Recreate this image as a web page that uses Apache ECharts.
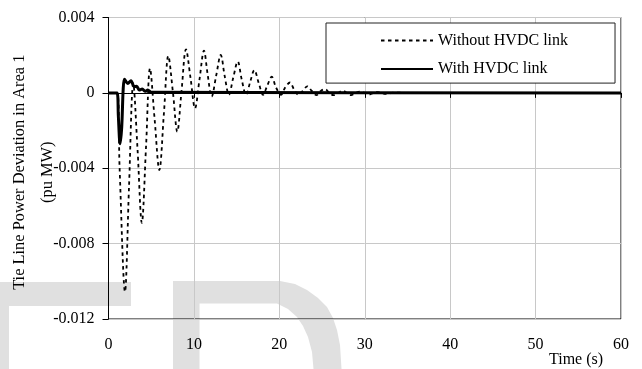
<!DOCTYPE html>
<html>
<head>
<meta charset="utf-8">
<script src="https://cdn.jsdelivr.net/npm/echarts@6/dist/echarts.min.js"></script>
<style>
html,body{margin:0;padding:0;background:#fff;}
#c{width:642px;height:369px;}
</style>
</head>
<body>
<div id="c"></div>
<script>
// ---- data ----
var seriesNames = ['Without HVDC link', 'With HVDC link'];
var xTicks = [0, 10, 20, 30, 40, 50, 60];
var yTicks = [-0.012, -0.008, -0.004, 0, 0.004];
var yTickLabels = ['-0.012', '-0.008', '-0.004', '0', '0.004'];
var xTitle = 'Time (s)';
var yTitle = 'Tie Line Power Deviation in Area 1\n(pu MW)';

// Without HVDC link: [time (s), deviation (pu MW)]
var withoutHVDC = [
  [0, 0], [1.0, 0], [1.3, -0.004], [1.93, -0.01055],
  [2.4, -0.005], [2.9, 0.0005], [3.4, -0.003], [3.9, -0.0069],
  [4.4, -0.0028], [4.86, 0.0013], [5.4, -0.0014], [5.95, -0.0041],
  [6.5, -0.001], [7.0, 0.00196], [7.55, 0.0], [8.05, -0.00206],
  [8.55, 0.0001], [9.07, 0.00231], [9.6, 0.0008], [10.13, -0.00082],
  [10.65, 0.0007], [11.18, 0.00224], [11.6, 0.001], [12.08, -0.0002],
  [12.6, 0.0009], [13.14, 0.00201], [13.6, 0.0009], [14.1, -0.0001],
  [14.6, 0.0008], [15.13, 0.00166], [15.6, 0.0007], [16.1, -0.0001],
  [16.6, 0.0006], [17.07, 0.00121], [17.6, 0.0005], [18.1, -0.0001],
  [18.6, 0.0004], [19.11, 0.00086], [19.6, 0.0003], [20.2, -0.0001],
  [20.7, 0.0003], [21.25, 0.00055], [21.7, 0.0002], [22.25, -0.0001],
  [22.75, 0.0001], [23.28, 0.00035], [23.8, 0.0001], [24.35, -0.00012],
  [24.85, 0.0001], [25.35, 0.0002], [25.85, 0.0], [26.35, -0.00012],
  [26.9, 0.0], [27.42, 0.00012], [27.9, 0.0], [28.4, -0.00012],
  [28.9, 0.0], [29.45, 0.00007], [29.95, 0.0], [30.45, -0.0001],
  [31.0, 0.0], [31.5, 0.00004], [32.5, -0.00005], [33.5, 0.00002],
  [35, 0], [60, 0]
];

// With HVDC link
var withHVDC = [
  [0, 0], [1.0, 0], [1.15, -0.0012], [1.35, -0.0027], [1.55, -0.0018],
  [1.72, 0.0002], [1.87, 0.00072], [2.25, 0.0005], [2.63, 0.00065],
  [3.0, 0.00033], [3.3, 0.00035], [3.6, 0.00015], [3.95, 0.0002],
  [4.3, 0.00008], [4.6, 0.00015], [5.0, 0.00003], [60, 0]
];

var FONT = 'Liberation Serif';
var WM = '#e0e0e0';
var chart = echarts.init(document.getElementById('c'), null, {renderer: 'canvas'});
var option = {
  animation: false,
  backgroundColor: '#fff',
  textStyle: {fontFamily: FONT, color: '#000'},
  grid: {left: 108.5, right: 21, top: 17.5, bottom: 50, show: true,
         borderColor: '#000', borderWidth: 1, containLabel: false, outerBoundsMode: 'none'},
  graphic: [
    {type: 'rect', z: -10, shape: {x: 0, y: 282, width: 131, height: 24}, style: {fill: WM}},
    {type: 'rect', z: -10, shape: {x: 0, y: 306, width: 9, height: 63}, style: {fill: WM}},
    {type: 'rect', z: -10, shape: {x: 173, y: 281, width: 26.5, height: 88}, style: {fill: WM}},
    {type: 'polygon', z: -10, shape: {points: [
      [199, 281], [280, 281], [295, 284], [307, 290], [318, 298], [327, 307], [333, 318],
      [337, 330], [340, 345], [341.5, 369],
      [313.5, 369], [312, 352], [308, 337], [303, 326], [297, 317], [288, 309], [277, 303.5],
      [199, 303.5]
    ]}, style: {fill: WM}},
    {type: 'text', z: 10, left: 549, top: 352, style: {text: xTitle, font: '16px "Liberation Serif"', fill: '#000'}}
  ],
  legend: {
    data: seriesNames,
    orient: 'vertical',
    left: 326, top: 23,
    padding: [9.5, 47, 6, 54],
    itemGap: 12.6,
    itemWidth: 52, itemHeight: 14,
    backgroundColor: '#fff',
    borderColor: '#222', borderWidth: 1,
    itemStyle: {color: 'rgba(0,0,0,0)', borderColor: 'rgba(0,0,0,0)', borderWidth: 0, opacity: 0},
    textStyle: {fontFamily: FONT, fontSize: 16, color: '#000', lineHeight: 16}
  },
  xAxis: {
    type: 'value', min: 0, max: 60, interval: 10,
    axisLine: {lineStyle: {color: '#000', width: 1}},
    axisTick: {show: true, inside: false, length: 5, lineStyle: {color: '#000'}},
    axisLabel: {margin: 18, fontFamily: FONT, fontSize: 16, color: '#000',
      formatter: function (v) { var i = xTicks.indexOf(v); return i >= 0 ? String(xTicks[i]) : ''; }},
    splitLine: {show: true, lineStyle: {color: '#c8c8c8', width: 1}}
  },
  yAxis: {
    type: 'value', min: -0.012, max: 0.004, interval: 0.004,
    name: yTitle, nameLocation: 'middle', nameRotate: 90, nameGap: 47.5, nameMoveOverlap: false,
    nameTextStyle: {fontFamily: FONT, fontSize: 16.4, color: '#000', lineHeight: 27.5,
                    padding: [0, 8, 0, 0]},
    axisLine: {show: true, lineStyle: {color: '#000', width: 1}},
    axisTick: {show: true, inside: false, length: 6, lineStyle: {color: '#000'}},
    axisLabel: {margin: 14, fontFamily: FONT, fontSize: 16, color: '#000',
      formatter: function (v) {
        for (var i = 0; i < yTicks.length; i++) { if (Math.abs(yTicks[i] - v) < 1e-9) return yTickLabels[i]; }
        return '';
      }},
    splitLine: {show: true, lineStyle: {color: '#c8c8c8', width: 1}}
  },
  series: [
    {name: seriesNames[0], type: 'line', data: withoutHVDC, symbol: 'none', smooth: 0.35,
     z: 2, lineStyle: {color: '#000', width: 1.8, type: [3.5, 3.5]}, itemStyle: {color: '#000'}},
    {name: seriesNames[1], type: 'line', data: withHVDC, symbol: 'none', smooth: 0.3,
     z: 3, lineStyle: {color: '#000', width: 3}, itemStyle: {color: '#000'}}
  ]
};
chart.setOption(option);
</script>
</body>
</html>
